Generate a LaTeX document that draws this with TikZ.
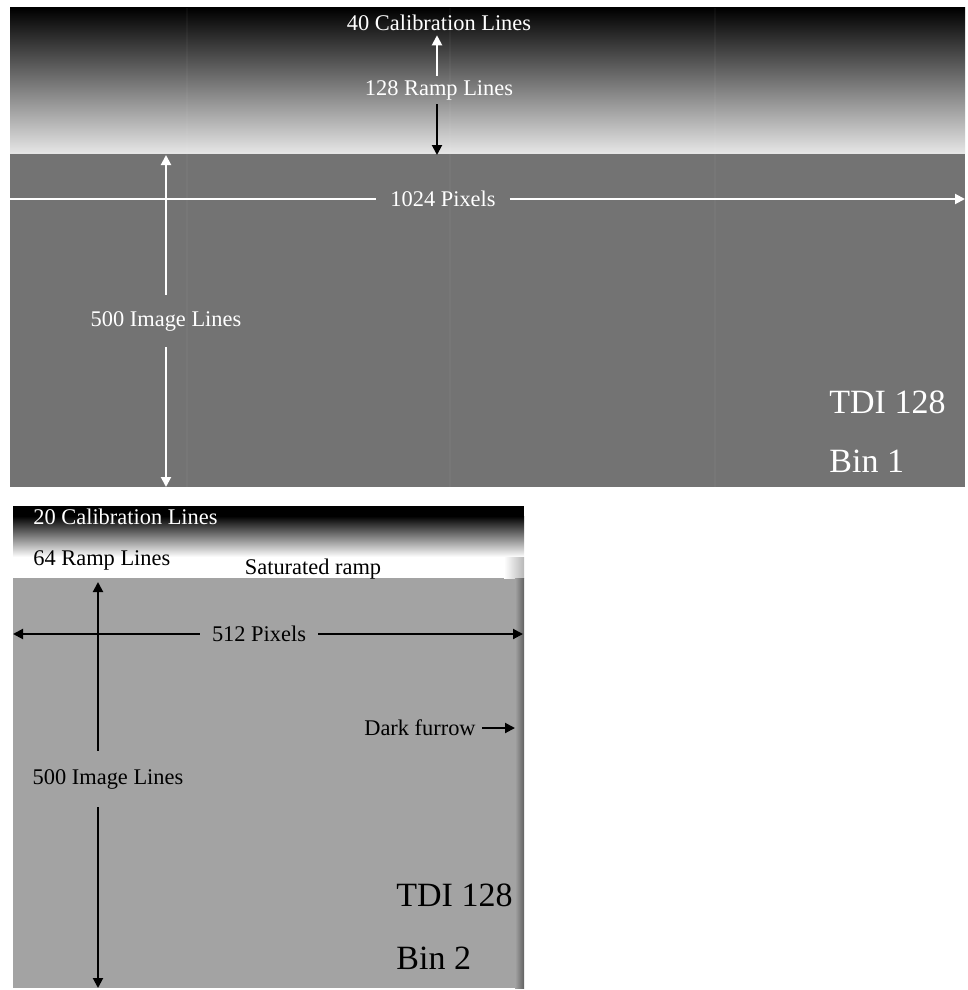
\documentclass[tikz,border=0pt]{standalone}
\usepackage{fontspec}
\setmainfont{Liberation Serif}
\usetikzlibrary{arrows.meta, positioning, calc}
\tikzset{
    lbl/.style={font=\fontsize{11.2}{13}\selectfont, inner sep=2pt},
    biglbl/.style={font=\fontsize{17}{20}\selectfont, inner sep=0pt, anchor=west},
    whitearrow/.style={draw=white, line width=1pt, -{Triangle[length=5pt, width=5pt]}},
    blackarrow/.style={draw=black, line width=1pt, -{Triangle[length=5pt, width=5pt]}}
}

\begin{document}
\begin{tikzpicture}[x=0.5pt, y=-0.5pt]
    \useasboundingbox (0,0) rectangle (968,990);

    % Bin 1 frame
    \fill[black!55] (10,153) rectangle (965,487);
    \shade[top color=black, bottom color=black!10] (10,8) rectangle (965,153);
    \draw[white!90!black, line width=0.6pt] (10,153) -- (965,153);
    \foreach \x in {187, 450, 715}
        \draw[white, opacity=0.035, line width=1pt] (\x,8) -- (\x,487);

    % Bin 2 frame
    \fill[black!36] (13,578) rectangle (524,988);
    \fill[black] (13,506) rectangle (524,516);
    \shade[top color=black, bottom color=white] (13,516) rectangle (524,557);
    \fill[white] (13,557) rectangle (524,578);
    \shade[left color=white, right color=black!28] (504,557) rectangle (524,578);
    \shade[left color=black!36, right color=black!62] (515,578) rectangle (524,988);

    % Bin 1 labels
    \node[lbl, text=white] (cal40) at (439,23) {40 Calibration Lines};
    \node[lbl, text=white] (ramp128) at (439,90) {128 Ramp Lines};
    \coordinate (rampend1) at (437,155);
    \node[lbl, text=white, inner xsep=7pt] (pix1024) at (443,199) {1024 Pixels};
    \coordinate (pixL1) at (10,199);
    \coordinate (pixR1) at (965,199);
    \node[lbl, text=white, inner ysep=8pt] (img500a) at (166,321) {500 Image Lines};
    \coordinate (imgT1) at (166,155);
    \coordinate (imgB1) at (166,487);
    \node[biglbl, text=white] (tdi1) at (829,402) {TDI 128};
    \node[biglbl, text=white] (bin1) at (829,461) {Bin 1};

    % Bin 1 connections
    \draw[whitearrow] ([xshift=-1pt]ramp128.north) -- ([xshift=-1pt]cal40.south);
    \draw[blackarrow] ([xshift=-1pt]ramp128.south) -- (rampend1);
    \draw[white, line width=1pt] (pix1024.west) -- (pixL1);
    \draw[whitearrow] (pix1024.east) -- (pixR1);
    \draw[whitearrow] (img500a.north) -- (imgT1);
    \draw[whitearrow] (img500a.south) -- (imgB1);

    % Bin 2 labels
    \node[lbl, text=white, anchor=west] (cal20) at (29,517) {20 Calibration Lines};
    \node[lbl, anchor=west] (ramp64) at (29,560) {64 Ramp Lines};
    \node[lbl] (satramp) at (313,569) {Saturated ramp};
    \node[lbl, inner xsep=6pt] (pix512) at (259,634) {512 Pixels};
    \coordinate (pixL2) at (13,634);
    \coordinate (pixR2) at (523,634);
    \node[lbl, inner ysep=9pt] (img500b) at (108,779) {500 Image Lines};
    \coordinate (imgT2) at (98,582);
    \coordinate (imgB2) at (98,988);
    \node[lbl, inner xsep=3pt] (furrow) at (420,728) {Dark furrow};
    \coordinate (furrowpt) at (515,728);
    \node[biglbl] (tdi2) at (396,895) {TDI 128};
    \node[biglbl] (bin2) at (396,958) {Bin 2};

    % Bin 2 connections
    \draw[blackarrow] (pix512.west) -- (pixL2);
    \draw[blackarrow] (pix512.east) -- (pixR2);
    \draw[blackarrow] (img500b.north -| imgT2) -- (imgT2);
    \draw[blackarrow] (img500b.south -| imgB2) -- (imgB2);
    \draw[blackarrow] (furrow) -- (furrowpt);

\end{tikzpicture}
\end{document}
